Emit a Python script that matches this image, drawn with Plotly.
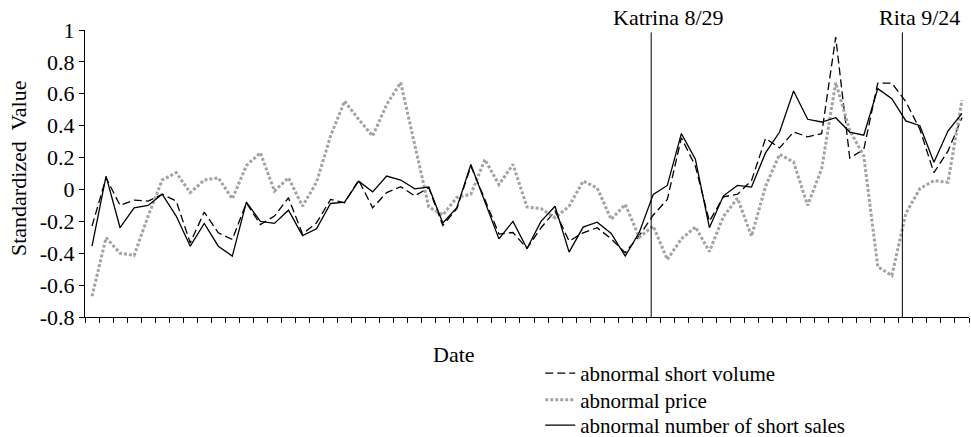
import plotly.graph_objects as go

# ---- data ----
day_index = list(range(63))

short_volume = [
    -0.23, 0.073, -0.10, -0.067, -0.073, -0.03, -0.073, -0.335, -0.142, -0.272,
    -0.314, -0.084, -0.22, -0.167, -0.052, -0.28, -0.21, -0.063, -0.084, 0.059,
    -0.115, -0.02, 0.017, -0.04, 0.01, -0.226, -0.12, 0.146, -0.063, -0.28,
    -0.27, -0.37, -0.24, -0.136, -0.324, -0.272, -0.24, -0.31, -0.397, -0.29,
    -0.16, -0.063, 0.324, 0.146, -0.2, -0.046, -0.03, 0.055, 0.32, 0.26,
    0.36, 0.33, 0.35, 0.955, 0.198, 0.25, 0.667, 0.667, 0.55, 0.377,
    0.105, 0.24, 0.45,
]

price = [
    -0.67, -0.303, -0.40, -0.414, -0.167, 0.059, 0.105, -0.02, 0.059, 0.073,
    -0.059, 0.15, 0.23, -0.01, 0.073, -0.105, 0.045, 0.335, 0.554, 0.44,
    0.335, 0.533, 0.67, 0.28, -0.11, -0.16, -0.05, -0.03, 0.188, 0.03,
    0.157, -0.11, -0.12, -0.178, -0.105, 0.052, 0.01, -0.188, -0.094, -0.30,
    -0.23, -0.44, -0.31, -0.235, -0.39, -0.17, -0.055, -0.293, 0.02, 0.22,
    0.172, -0.1, 0.13, 0.67, 0.37, 0.21, -0.485, -0.54, -0.15, 0.005,
    0.055, 0.045, 0.56,
]

num_short_sales = [
    -0.356, 0.084, -0.24, -0.115, -0.10, -0.03, -0.167, -0.356, -0.213, -0.356,
    -0.418, -0.08, -0.2, -0.213, -0.13, -0.29, -0.247, -0.088, -0.08, 0.052,
    -0.015, 0.084, 0.059, 0.004, 0.015, -0.21, -0.115, 0.157, -0.077, -0.31,
    -0.2, -0.37, -0.2, -0.105, -0.393, -0.236, -0.205, -0.276, -0.418, -0.27,
    -0.031, 0.025, 0.35, 0.19, -0.24, -0.04, 0.025, 0.015, 0.23, 0.36,
    0.617, 0.44, 0.423, 0.45, 0.36, 0.34, 0.632, 0.569, 0.43, 0.40,
    0.17, 0.366, 0.477,
]

event_labels = ["Katrina 8/29", "Rita 9/24"]
event_positions = [39.85, 57.75]

y_tick_vals = [1, 0.8, 0.6, 0.4, 0.2, 0, -0.2, -0.4, -0.6, -0.8]
y_tick_text = ["1", "0.8", "0.6", "0.4", "0.2", "0", "-0.2", "-0.4", "-0.6", "-0.8"]

FONT = "Liberation Serif"

fig = go.Figure()
fig.add_trace(go.Scatter(
    x=day_index, y=short_volume, mode="lines", name="abnormal short volume",
    line=dict(color="black", width=1.3, dash="8px,4px"), legend="legend",
))
fig.add_trace(go.Scatter(
    x=day_index, y=price, mode="lines", name="abnormal price",
    line=dict(color="#a3a3a3", width=3, dash="3px,2px"), legend="legend2",
))
fig.add_trace(go.Scatter(
    x=day_index, y=num_short_sales, mode="lines", name="abnormal number of short sales",
    line=dict(color="black", width=1.3), legend="legend3",
))

for lab, pos in zip(event_labels, event_positions):
    fig.add_shape(type="line", xref="x", yref="y", x0=pos, x1=pos, y0=-0.8, y1=0.985,
                  line=dict(color="black", width=1))
    fig.add_annotation(x=pos, xref="x", y=1.045, yref="paper", text=lab, showarrow=False,
                       xshift=17, xanchor="center", yanchor="middle", borderpad=0,
                       font=dict(family=FONT, size=22, color="black"))

fig.add_annotation(x=0.4174, xref="paper", y=-0.1324, yref="paper", text="Date", showarrow=False,
                   xanchor="center", yanchor="middle", font=dict(family=FONT, size=22, color="black"))
fig.add_annotation(x=-0.0758, xref="paper", y=0.519, yref="paper", text="Standardized&nbsp; Value",
                   textangle=-90, showarrow=False, xanchor="center", yanchor="middle",
                   font=dict(family=FONT, size=22, color="black"))

x_ticks = [i - 0.5 for i in range(64)]

leg_common = dict(x=0.515, xanchor="left", yanchor="middle", bgcolor="rgba(0,0,0,0)",
                  font=dict(family=FONT, size=21, color="black"), itemwidth=30)

fig.update_layout(
    width=971, height=437,
    margin=dict(l=85, r=2, t=30, b=120, autoexpand=False),
    paper_bgcolor="white", plot_bgcolor="white",
    font=dict(family=FONT, size=22, color="black"),
    showlegend=True,
    legend=dict(y=-0.1969, **leg_common),
    legend2=dict(y=-0.2899, **leg_common),
    legend3=dict(y=-0.3781, **leg_common),
    xaxis=dict(range=[-0.5, 62.5], showgrid=False, zeroline=False, showline=True,
               linecolor="black", linewidth=1, tickmode="array", tickvals=x_ticks,
               ticks="outside", ticklen=5, tickcolor="black", showticklabels=False,
               automargin=False),
    yaxis=dict(range=[-0.8, 1], showgrid=False, zeroline=False, showline=True,
               linecolor="black", linewidth=1, tickmode="array", tickvals=y_tick_vals,
               ticktext=y_tick_text, ticks="outside", ticklen=5, tickcolor="black",
               tickfont=dict(family=FONT, size=22), automargin=False),
)

fig.write_html("out.html", config={"displayModeBar": False},
               post_script="document.body.style.margin='0';")
